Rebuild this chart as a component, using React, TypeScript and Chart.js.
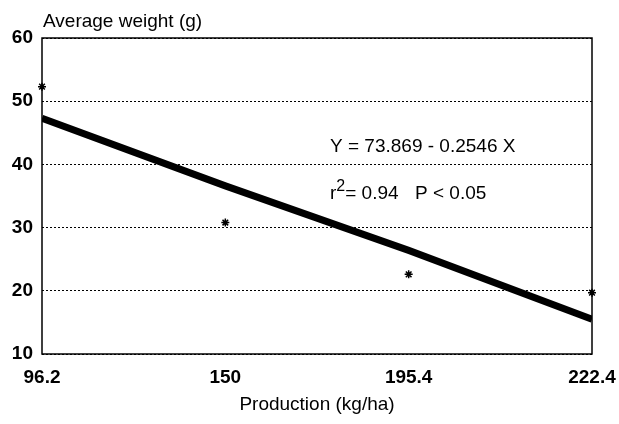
import React, { useEffect, useRef } from "react";
import { Chart, registerables } from "chart.js";
Chart.register(...registerables);

const categories = ["96.2", "150", "195.4", "222.4"];
const observedWeights = [52.3, 30.8, 22.6, 19.7];
const fittedWeights = [47.3, 36.6, 26.4, 15.5];
const yMin = 10;
const yMax = 60;
const yStep = 10;
const yTitle = "Average weight (g)";
const xTitle = "Production (kg/ha)";
const equationText = "Y = 73.869 - 0.2546 X";
const r2Text = "= 0.94";
const pText = "P < 0.05";

const FONT = '"Liberation Sans", Arial, Helvetica, sans-serif';

const annotate = {
  id: "annotate",
  afterDraw(chart: any) {
    const { ctx, chartArea: a, scales } = chart;
    const xs = scales.x;
    const ys = scales.y;
    ctx.save();
    ctx.strokeStyle = "#000";
    ctx.lineWidth = 1.5;
    ctx.strokeRect(a.left, a.top, a.right - a.left, a.bottom - a.top);

    ctx.fillStyle = "#000";
    ctx.font = `19px ${FONT}`;
    ctx.textBaseline = "alphabetic";
    ctx.textAlign = "left";
    ctx.fillText(yTitle, a.left + 1, a.top - 11);
    ctx.textAlign = "center";
    ctx.fillText(xTitle, (a.left + a.right) / 2, a.bottom + 56);

    ctx.textAlign = "left";
    const ex = xs.getPixelForValue(1.571);
    const ey1 = ys.getPixelForValue(42);
    ctx.fillText(equationText, ex, ey1);

    const ey2 = ys.getPixelForValue(34.5);
    ctx.fillText("r", ex, ey2);
    const rw = ctx.measureText("r").width;
    ctx.font = `16px ${FONT}`;
    ctx.fillText("2", ex + rw, ey2 - 8);
    const tw = ctx.measureText("2").width;
    ctx.font = `19px ${FONT}`;
    ctx.fillText(r2Text, ex + rw + tw, ey2);
    ctx.fillText(pText, ex + 85, ey2);
    ctx.restore();
  },
};

export default function App() {
  const ref = useRef<HTMLCanvasElement | null>(null);
  useEffect(() => {
    document.body.style.margin = "0";
    const canvas = ref.current;
    if (!canvas) return;
    const chart = new Chart(canvas, {
      type: "line",
      data: {
        labels: categories,
        datasets: [
          {
            label: "fit",
            data: fittedWeights,
            borderColor: "#000",
            backgroundColor: "#000",
            borderWidth: 7,
            pointRadius: 0,
            tension: 0,
            clip: 0,
          } as any,
          {
            label: "observed",
            data: observedWeights,
            showLine: false,
            pointStyle: "star",
            pointRadius: 4,
            borderColor: "#000",
            backgroundColor: "#000",
            pointBorderWidth: 1.5,
            clip: false,
          } as any,
        ],
      },
      options: {
        responsive: false,
        animation: false,
        devicePixelRatio: 1,
        layout: { padding: { top: 38, right: 27, left: 0, bottom: 0 } },
        plugins: {
          legend: { display: false },
          tooltip: { enabled: false },
          title: { display: false },
        },
        scales: {
          x: {
            type: "category",
            offset: false,
            grid: { display: false, drawTicks: false },
            border: { display: false },
            ticks: {
              color: "#000",
              font: { family: FONT, size: 19, weight: "bold" },
              padding: 12,
              maxRotation: 0,
              autoSkip: false,
            },
            afterFit: (s: any) => {
              s.height = 70;
              s.paddingLeft = 0;
              s.paddingRight = 0;
            },
          },
          y: {
            min: yMin,
            max: yMax,
            ticks: {
              stepSize: yStep,
              color: "#000",
              font: { family: FONT, size: 19, weight: "bold" },
              padding: 9,
            },
            grid: {
              color: "#000",
              lineWidth: 1,
              drawTicks: false,
            },
            border: { display: false, dash: [2, 2] },
            afterFit: (s: any) => {
              s.width = 42;
            },
          },
        },
      } as any,
      plugins: [annotate],
    });
    return () => chart.destroy();
  }, []);
  return (
    <div style={{ width: 619, height: 424 }}>
      <canvas ref={ref} width={619} height={424} />
    </div>
  );
}
